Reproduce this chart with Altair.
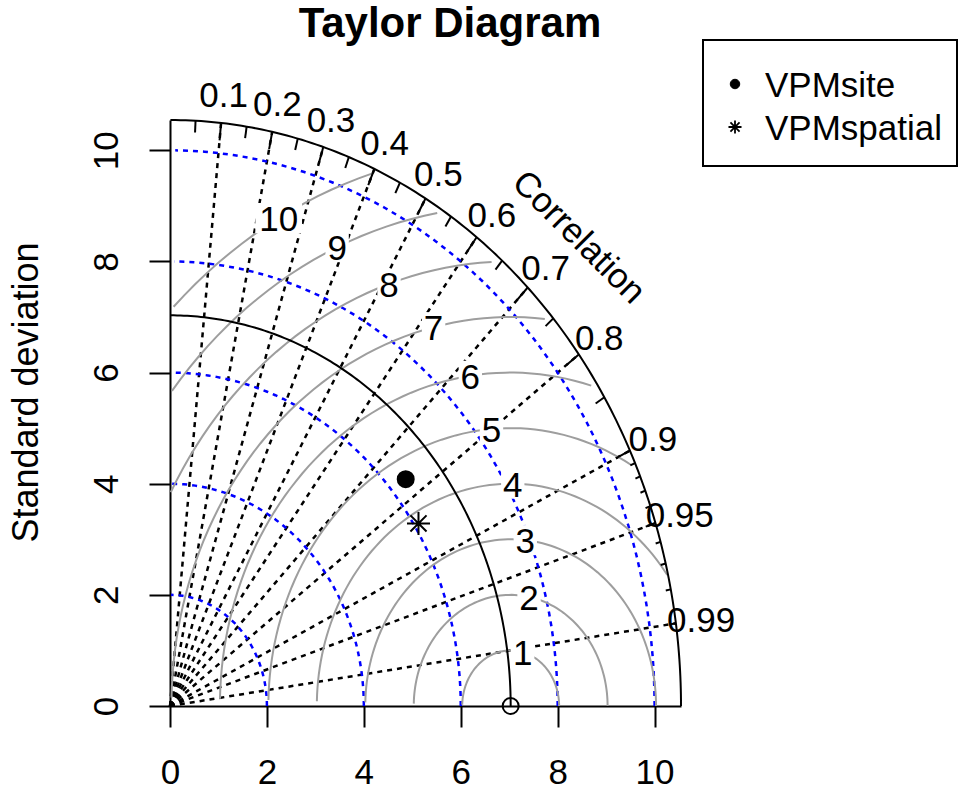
import numpy as np
import pandas as pd
import altair as alt

# ---------------- data ----------------
REF_SD = 7.03                      # reference standard deviation
MODEL_NAMES = ["VPMsite", "VPMspatial"]
MODEL_SD = [6.35, 6.09]
MODEL_COR = [0.766, 0.842]

COR_LINES = [0.1, 0.2, 0.3, 0.4, 0.5, 0.6, 0.7, 0.8, 0.9, 0.95, 0.99]
COR_LABELS = ["0.1", "0.2", "0.3", "0.4", "0.5", "0.6", "0.7", "0.8", "0.9", "0.95", "0.99"]
BIG_TICKS = [0.1, 0.2, 0.3, 0.4, 0.5, 0.6, 0.7, 0.8, 0.9]
MED_TICKS = [0.05, 0.15, 0.25, 0.35, 0.45, 0.55, 0.65, 0.75, 0.85, 0.95]
SML_TICKS = [0.91, 0.92, 0.93, 0.94, 0.95, 0.96, 0.97, 0.98, 0.99]
SD_ARCS = [2, 4, 6, 8, 10]
AXIS_TICKS = [0, 2, 4, 6, 8, 10]
GAMMA = [1, 2, 3, 4, 5, 6, 7, 8, 9, 10]
TITLE = "Taylor Diagram"

# ---------------- layout ----------------
MAXRAY = 1.5 * REF_SD
W, H = 511, 586
PX_X = W / MAXRAY
PX_Y = H / MAXRAY
FONT = "Liberation Sans"
FS = 35
GRAY = "#9E9E9E"
ASTER = "M-1,0L1,0M0,-1L0,1M-0.7,-0.7L0.7,0.7M-0.7,0.7L0.7,-0.7"

X_AX = alt.Axis(values=AXIS_TICKS, title=None, grid=False, tickSize=21, tickWidth=2,
                tickColor="black", domainWidth=2, domainColor="black",
                labelFont=FONT, labelFontSize=FS, labelColor="black",
                labelPadding=28, labelBaseline="top", labelAlign="center",
                labelFlush=False, labelOverlap=False)
Y_AX = alt.Axis(values=AXIS_TICKS, title="Standard deviation", grid=False, tickSize=21,
                tickWidth=2, tickColor="black", domainWidth=2, domainColor="black",
                labelFont=FONT, labelFontSize=FS, labelColor="black",
                labelAngle=270, labelAlign="center", labelBaseline="alphabetic",
                labelPadding=32, labelFlush=False, labelOverlap=False,
                titleFont=FONT, titleFontSize=36, titleFontWeight="normal",
                titleColor="black", titleAngle=270, titleAlign="center",
                titleBaseline="alphabetic", titleX=-133, titleY=272)
XS = alt.Scale(domain=[0, MAXRAY], nice=False, zero=False)
YS = alt.Scale(domain=[0, MAXRAY], nice=False, zero=False)


def X(f):
    return alt.X(f"{f}:Q", scale=XS, axis=X_AX)


def Y(f):
    return alt.Y(f"{f}:Q", scale=YS, axis=Y_AX)


# correlation rays
cor = np.array(COR_LINES)
corr_df = pd.DataFrame({"x0": 0.0, "y0": 0.0, "x1": MAXRAY * cor,
                        "y1": MAXRAY * np.sqrt(1 - cor ** 2)})
corr_rules = alt.Chart(corr_df).mark_rule(color="black", strokeWidth=2.5,
                                          strokeDash=[5, 5]).encode(
    x=X("x0"), y=Y("y0"), x2="x1", y2="y1")

# blue sd arcs
rows = []
ang = np.arange(0, np.pi / 2, 0.03)
for s in SD_ARCS:
    for i, a in enumerate(ang):
        rows.append({"arc": s, "i": i, "x": np.cos(a) * s, "y": np.sin(a) * s})
sd_df = pd.DataFrame(rows)
sd_lines = alt.Chart(sd_df).mark_line(color="blue", strokeWidth=2.5,
                                      strokeDash=[5, 5]).encode(
    x=X("x"), y=Y("y"), detail="arc:N", order="i:Q")

# gamma (centered RMS) arcs
rows = []
lab_rows = []
ang = np.arange(0, np.pi, 0.03)
labelpos = np.linspace(45, 70, len(GAMMA))
for gi, g in enumerate(GAMMA):
    xc = np.cos(ang) * g + REF_SD
    yc = np.sin(ang) * g
    neg = np.where(xc < 0)[0]
    end = neg.min() - 1 if len(neg) else len(ang) - 1
    out = np.where(xc * xc + yc * yc > MAXRAY * MAXRAY)[0]
    start = out.max() + 1 if len(out) else 0
    for i in range(start, end + 1):
        rows.append({"g": g, "i": i, "x": xc[i], "y": yc[i]})
    li = int(labelpos[gi]) - 1
    txt = str(g)
    w = 0.556 * FS * len(txt) * 1.2
    h = 0.716 * FS * 1.2
    lab_rows.append({"lab": txt, "x": xc[li], "y": yc[li],
                     "bx0": xc[li] - w / 2 / PX_X, "bx1": xc[li] + w / 2 / PX_X,
                     "by0": yc[li] - h / 2 / PX_Y, "by1": yc[li] + h / 2 / PX_Y})
g_df = pd.DataFrame(rows)
g_lab = pd.DataFrame(lab_rows)
g_lines = alt.Chart(g_df).mark_line(color=GRAY, strokeWidth=2).encode(
    x=X("x"), y=Y("y"), detail="g:N", order="i:Q")
g_boxes = alt.Chart(g_lab).mark_rect(fill="white", strokeWidth=0).encode(
    x=X("bx0"), x2="bx1", y=Y("by0"), y2="by1")
g_text = alt.Chart(g_lab).mark_text(font=FONT, fontSize=FS, color="black",
                                    align="center", baseline="middle", dy=2).encode(
    x=X("x"), y=Y("y"), text="lab:N")

# outer arc and reference arc
rows = []
ang = np.arange(0, np.pi / 2 + 0.001, 0.01)
for name, r in [("outer", MAXRAY), ("ref", REF_SD)]:
    for i, a in enumerate(ang):
        rows.append({"arc": name, "i": i, "x": np.cos(a) * r, "y": np.sin(a) * r})
arc_df = pd.DataFrame(rows)
arcs = alt.Chart(arc_df).mark_line(color="black", strokeWidth=2).encode(
    x=X("x"), y=Y("y"), detail="arc:N", order="i:Q")

# ticks on outer arc
rows = []
for vals, f in [(BIG_TICKS, 0.97), (MED_TICKS, 0.98), (SML_TICKS, 0.99)]:
    for c in vals:
        s = np.sqrt(1 - c * c)
        rows.append({"x0": c * MAXRAY, "y0": s * MAXRAY, "x1": c * f * MAXRAY, "y1": s * f * MAXRAY})
tick_df = pd.DataFrame(rows)
ticks = alt.Chart(tick_df).mark_rule(color="black", strokeWidth=2).encode(
    x=X("x0"), y=Y("y0"), x2="x1", y2="y1")

# correlation labels
clab_df = pd.DataFrame({"lab": COR_LABELS, "x": 1.05 * MAXRAY * cor,
                        "y": 1.05 * MAXRAY * np.sqrt(1 - cor ** 2)})
clabs = alt.Chart(clab_df).mark_text(font=FONT, fontSize=FS, color="black",
                                     align="center", baseline="middle", dy=2).encode(
    x=X("x"), y=Y("y"), text="lab:N")

corr_title = alt.Chart(pd.DataFrame({"x": [0.8 * MAXRAY], "y": [0.8 * MAXRAY],
                                     "t": ["Correlation"]})).mark_text(
    font=FONT, fontSize=FS, color="black", align="center", baseline="middle",
    angle=45).encode(x=X("x"), y=Y("y"), text="t:N")

# reference point
ref_pt = alt.Chart(pd.DataFrame({"x": [REF_SD], "y": [0.0]})).mark_point(
    shape="circle", filled=False, stroke="black", strokeWidth=2, size=256, opacity=1).encode(
    x=X("x"), y=Y("y"))

# model points
msd = np.array(MODEL_SD)
mr = np.array(MODEL_COR)
m_df = pd.DataFrame({"name": MODEL_NAMES, "kind": MODEL_NAMES,
                     "x": msd * mr, "y": msd * np.sqrt(1 - mr ** 2)})
m_pts = alt.Chart(m_df).mark_point(filled=True, fill="black", stroke="black",
                                   strokeWidth=2, opacity=1).encode(
    x=X("x"), y=Y("y"),
    shape=alt.Shape("name:N", scale=alt.Scale(domain=MODEL_NAMES, range=["circle", ASTER]),
                    legend=None),
    size=alt.Size("kind:N", scale=alt.Scale(domain=MODEL_NAMES, range=[256, 529]), legend=None),
)

# legend (box, symbols, labels) and title, placed in pixels relative to the plot area
one = pd.DataFrame({"k": [0]})
LX, LY = 533, -80          # top-left corner of legend box
leg_box = alt.Chart(one).mark_rect(fill="white", stroke="black", strokeWidth=2).encode(
    x=alt.value(LX), x2=alt.value(LX + 254), y=alt.value(LY), y2=alt.value(LY + 126))
leg_dot = alt.Chart(one).mark_point(shape="circle", filled=True, fill="black",
                                    stroke="black", strokeWidth=1, size=90, opacity=1).encode(
    x=alt.value(LX + 32), y=alt.value(LY + 44))
leg_ast = alt.Chart(one).mark_point(shape=ASTER, filled=False, stroke="black",
                                    strokeWidth=1.8, size=170, opacity=1).encode(
    x=alt.value(LX + 32), y=alt.value(LY + 87))
leg_t1 = alt.Chart(one).mark_text(font=FONT, fontSize=FS, color="black", align="left",
                                  baseline="middle", dy=2, text=MODEL_NAMES[0]).encode(
    x=alt.value(LX + 62), y=alt.value(LY + 44))
leg_t2 = alt.Chart(one).mark_text(font=FONT, fontSize=FS, color="black", align="left",
                                  baseline="middle", dy=2, text=MODEL_NAMES[1]).encode(
    x=alt.value(LX + 62), y=alt.value(LY + 87))
title_t = alt.Chart(one).mark_text(font=FONT, fontSize=42, fontWeight="bold", color="black",
                                   align="center", baseline="alphabetic", text=TITLE).encode(
    x=alt.value(280), y=alt.value(-83))

chart = alt.layer(corr_rules, sd_lines, g_lines, g_boxes, g_text, arcs, ticks, ref_pt,
                  clabs, corr_title, m_pts, leg_box, leg_dot, leg_ast, leg_t1, leg_t2,
                  title_t).properties(
    width=W, height=H,
    autosize=alt.AutoSizeParams(type="none"),
    padding={"left": 170, "top": 120, "right": 960 - 170 - W, "bottom": 792 - 120 - H},
).configure_view(stroke=None)

chart.save("out.html", embed_options={"renderer": "svg", "actions": False})
